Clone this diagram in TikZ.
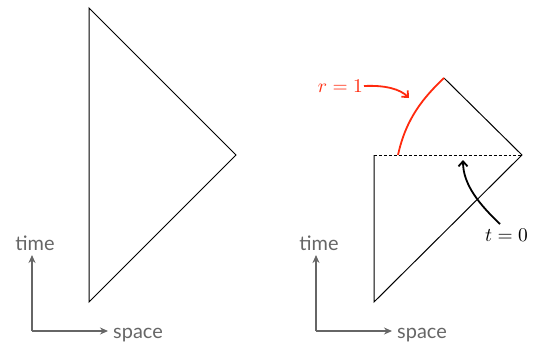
\documentclass[tikz,border=0pt]{standalone}
\usepackage{graphicx}
\usepackage{fontspec}
\setsansfont{Lato}
\usetikzlibrary{arrows.meta}
\definecolor{axgray}{HTML}{666666}
\definecolor{myred}{HTML}{FF2A0E}
\tikzset{
  edge/.style={line width=1bp, black},
  axis/.style={line width=2bp, axgray, -{Stealth[length=8bp,width=7bp]}},
  axlabel/.style={text=axgray, font=\sffamily\fontsize{20}{24}\selectfont, inner sep=0pt},
  mathlabel/.style={inner sep=0pt},
  pointer/.style={line width=1.8bp, -{Straight Barb[length=5bp,width=9bp]}}
}
\newcommand{\mybigmath}[1]{\scalebox{1.95}{$#1$}}
\begin{document}
\begin{tikzpicture}[x=1bp,y=-1bp]
\useasboundingbox (0,0) rectangle (544,343);
% left triangle
\coordinate (lt) at (89,8);
\coordinate (lr) at (236,155);
\coordinate (lb) at (89,302);
\draw[edge, line join=miter] (lt) -- (lr) -- (lb) -- cycle;
% left axes
\coordinate (lo) at (32,331);
\coordinate (lup) at (32,255);
\coordinate (lright) at (108,331);
\draw[axis] (lo) -- (lup);
\draw[axis] (lo) -- (lright);
\node[axlabel, anchor=base] (ltime) at (35,250) {time};
\node[axlabel, anchor=base west] (lspace) at (113,338) {space};
% right figure
\coordinate (rl) at (374,155);
\coordinate (rr) at (522,155);
\coordinate (rb) at (374,302);
\coordinate (rtop) at (444,78);
\coordinate (rarc) at (398,155);
\draw[edge] (rl) -- (rb) -- (rr) -- (rtop);
\draw[edge, densely dashed] (rl) -- (rr);
\draw[myred, line width=1.8bp] (rarc) .. controls (406,118) and (424,97) .. (rtop);
% right axes
\coordinate (ro) at (316,331);
\coordinate (rup) at (316,255);
\coordinate (rright) at (392,331);
\draw[axis] (ro) -- (rup);
\draw[axis] (ro) -- (rright);
\node[axlabel, anchor=base] (rtime) at (319,250) {time};
\node[axlabel, anchor=base west] (rspace) at (397,338) {space};
% labels
\node[mathlabel, text=myred, anchor=base east] (rlab) at (363,92) {\mybigmath{r=1}};
\draw[pointer, myred] (364,86) .. controls (385,85) and (400,89) .. (409,98);
\node[mathlabel, anchor=base west] (tlab) at (485,241) {\mybigmath{t=0}};
\coordinate (tend) at (463,160);
\draw[pointer] (500,224) .. controls (480,205) and (463,185) .. (tend);
\end{tikzpicture}
\end{document}
